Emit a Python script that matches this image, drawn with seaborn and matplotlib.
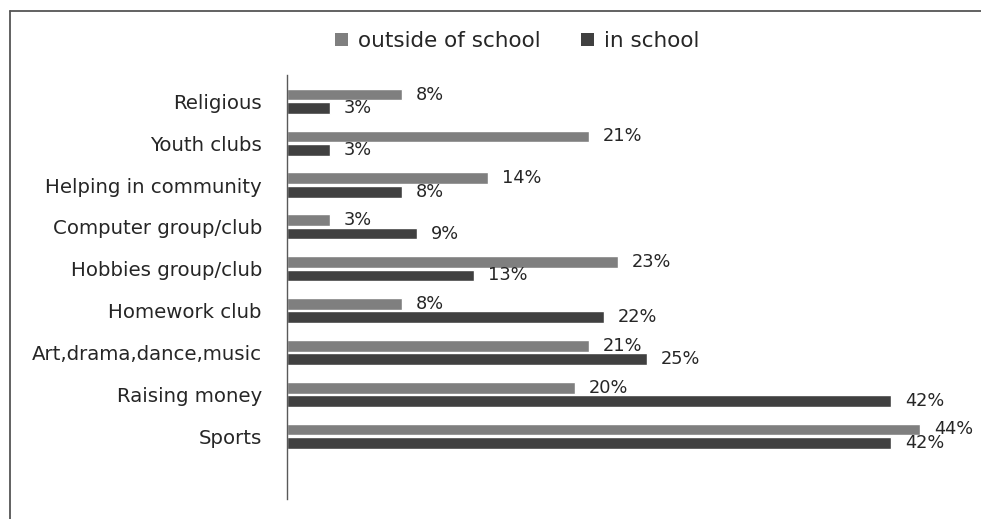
import matplotlib
matplotlib.use("Agg")
import matplotlib.pyplot as plt
from matplotlib.lines import Line2D
from matplotlib.patches import Patch
import seaborn as sns
import pandas as pd

categories = ["Religious", "Youth clubs", "Helping in community", "Computer group/club",
              "Hobbies group/club", "Homework club", "Art,drama,dance,music",
              "Raising money", "Sports"]
outside_school = [8, 21, 14, 3, 23, 8, 21, 20, 44]
in_school = [3, 3, 8, 9, 13, 22, 25, 42, 42]
series = ["outside of school", "in school"]
colors = ["#7f7f7f", "#404040"]

df = pd.DataFrame({
    "activity": categories * 2,
    "percent": outside_school + in_school,
    "where": [series[0]] * len(categories) + [series[1]] * len(categories),
})

sns.set_style("white")
plt.rcParams["font.family"] = ["DejaVu Sans"]
text_color = "#262626"

W, H = 981, 519
fig = plt.figure(figsize=(W / 100, H / 100), dpi=100)
x0, x1 = 287, 960
y_top, y_bot = 75, 499
ax = fig.add_axes([x0 / W, 1 - y_bot / H, (x1 - x0) / W, (y_bot - y_top) / H])

sns.barplot(data=df, y="activity", x="percent", hue="where", order=categories,
            hue_order=series, palette=colors, orient="h", width=0.64, gap=0.12,
            saturation=1, ax=ax, legend=False)

px_per_pct = 14.39
ax.set_xlim(0, (x1 - x0) / px_per_pct)
band = 41.86
ax.set_ylim(8 + (y_bot - 436.2) / band, -(101.3 - y_top) / band)

for cont in ax.containers:
    ax.bar_label(cont, fmt="{:.0f}%", padding=10, fontsize=12.8, color=text_color,
                 clip_on=False)

ax.set_xlabel("")
ax.set_ylabel("")
ax.set_xticks([])
ax.tick_params(axis="y", length=0, pad=18, labelsize=14.2, labelcolor=text_color)
for side in ["top", "right", "bottom"]:
    ax.spines[side].set_visible(False)
ax.spines["left"].set_color("#595959")
ax.spines["left"].set_linewidth(1.0)

handles = [Patch(facecolor=c, edgecolor="none") for c in colors]
fig.legend(handles, series, loc="center", bbox_to_anchor=(517 / W, 1 - 41 / H),
           ncol=2, frameon=False, fontsize=15.5, handlelength=0.6, handleheight=0.6,
           handletextpad=0.45, columnspacing=1.9, labelcolor=text_color)

# outer frame (top and left edges)
fig.add_artist(Line2D([9.5 / W, 9.5 / W], [0, 1 - 10.5 / H], transform=fig.transFigure,
                      color="#555555", lw=1.3))
fig.add_artist(Line2D([9.5 / W, 1], [1 - 10.5 / H, 1 - 10.5 / H], transform=fig.transFigure,
                      color="#555555", lw=1.3))

fig.savefig("out.png", dpi=100)
